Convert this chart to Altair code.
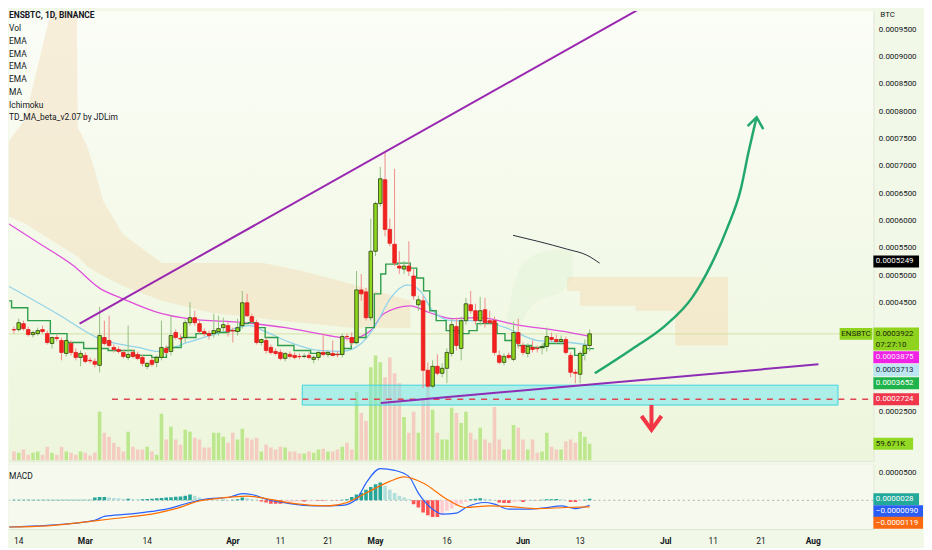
import altair as alt
import pandas as pd

# ============================ data ============================
START = "2022-02-14"          # first daily candle (ENSBTC, 1D, BINANCE)

# candle prices in satoshi (1 sat = 1e-8 BTC)
OPEN_SAT = [
    40000, 40000, 41090, 40000, 39090, 39270, 40000, 39270, 37460, 38550,
    38000, 35640, 37460, 35820, 34910, 35270, 34370, 34180, 33460, 38550,
    38000, 36730, 36360, 35820, 34910, 35820, 35460, 34910, 33270, 34370,
    34000, 34910, 36550, 36000, 39460, 38360, 38550, 41270, 42180, 41090,
    39640, 39270, 39270, 39640, 40360, 40730, 39820, 39640, 40730, 44910,
    42360, 41270, 37640, 38000, 36730, 36000, 35820, 34730, 35460, 35270,
    35090, 35090, 35270, 34550, 34910, 35820, 35460, 35640, 35460, 35460,
    38730, 38550, 37640, 47270, 46910, 42180, 54360, 63090, 67450, 58360,
    55640, 51640, 51090, 51640, 49820, 44550, 45270, 32550, 29640, 33270,
    32000, 32910, 35640, 40550, 36550, 41640, 44550, 43460, 41640, 43640,
    41640, 41640, 35270, 34000, 35270, 34550, 39460, 37090, 35640, 36730,
    36550, 36730, 36910, 38550, 38180, 37820, 38180, 35270, 32180, 31820,
    35640, 37090,
]
HIGH_SAT = [
    40550, 42000, 41640, 40550, 39820, 40360, 40730, 39820, 38730, 39090,
    38550, 38180, 38000, 36550, 36180, 35820, 34910, 34730, 44180, 41640,
    42550, 37270, 36910, 36360, 40730, 36360, 36000, 35460, 34000, 34910,
    35270, 41640, 37090, 42550, 40000, 39090, 41820, 45000, 43460, 41640,
    40180, 39820, 42910, 42550, 42180, 41460, 40360, 42000, 47090, 46550,
    42910, 41820, 38360, 38550, 37270, 36550, 36360, 35820, 36000, 35820,
    35640, 35640, 35820, 35270, 36000, 39270, 36180, 38000, 36000, 39270,
    39270, 39460, 50730, 50180, 47640, 60360, 63450, 69820, 72540, 60360,
    69450, 54360, 52550, 56180, 51090, 46180, 46180, 34000, 34370, 35460,
    33820, 36550, 42000, 42180, 42360, 45820, 47090, 44730, 46000, 45820,
    43460, 42360, 36180, 35640, 35820, 41460, 42000, 37640, 37460, 38000,
    37090, 37460, 40360, 39460, 39090, 38910, 38730, 35820, 32730, 36000,
    38180, 40000,
]
LOW_SAT = [
    39270, 39640, 39820, 38730, 38550, 38910, 39270, 37270, 36550, 37820,
    34370, 35090, 35270, 34370, 33270, 33820, 33820, 33090, 32180, 37090,
    36730, 35820, 35640, 34730, 34370, 34730, 34370, 33270, 32730, 33270,
    33090, 34370, 35460, 35270, 38180, 37640, 37640, 40730, 40730, 39270,
    38730, 38180, 38550, 38910, 39640, 38730, 37640, 38910, 40180, 42360,
    41090, 37270, 37090, 35640, 35460, 35270, 34370, 34180, 34730, 34550,
    34550, 34730, 34550, 33820, 34370, 35090, 34910, 35090, 34910, 34910,
    38000, 37090, 37270, 45270, 41640, 41640, 53450, 62540, 57090, 55270,
    51640, 50180, 50180, 49820, 45450, 43460, 29270, 29270, 29270, 31640,
    31270, 30180, 35090, 36180, 34370, 40910, 42910, 40910, 40730, 40360,
    40910, 35270, 33640, 33460, 34550, 34180, 36550, 35270, 34910, 35820,
    35820, 35460, 36000, 37820, 37460, 37270, 35460, 31270, 30180, 30180,
    34370, 36000,
]
CLOSE_SAT = [
    39950, 41270, 40180, 39090, 39460, 39820, 39640, 37640, 38550, 38360,
    35820, 38000, 35820, 34910, 35640, 34180, 34300, 33640, 38910, 37460,
    37090, 36360, 36000, 35090, 35460, 35090, 34730, 33820, 33820, 33640,
    34910, 36730, 35820, 38910, 38550, 38300, 41270, 42180, 41270, 39640,
    39270, 38910, 39820, 40180, 40910, 39640, 39760, 40360, 44910, 42550,
    41460, 37640, 38180, 36180, 35820, 35640, 34730, 35640, 35090, 34910,
    35050, 35130, 34910, 34910, 35820, 35460, 35820, 35270, 35400, 38730,
    38700, 37640, 47270, 46550, 42180, 54360, 63090, 67630, 58360, 55820,
    52180, 51270, 51640, 50730, 46180, 45450, 32550, 29640, 33270, 32000,
    32910, 35820, 40910, 37090, 41640, 44730, 43460, 41640, 43460, 41270,
    41270, 35820, 34000, 35090, 34910, 39460, 37460, 35820, 36910, 36360,
    36500, 36910, 38730, 38180, 37820, 38180, 35820, 32180, 32000, 35640,
    37090, 39220,
]
VOLUME_K = [
    32, 28, 39, 21, 28, 32, 21, 49, 28, 21,
    49, 32, 28, 21, 32, 28, 18, 28, 172, 98,
    84, 63, 49, 32, 102, 49, 39, 39, 49, 32,
    21, 165, 74, 119, 74, 56, 109, 102, 81, 74,
    46, 46, 98, 98, 84, 63, 98, 74, 112, 81,
    74, 81, 32, 56, 46, 39, 49, 46, 32, 32,
    25, 25, 32, 28, 39, 42, 32, 32, 39, 49,
    63, 39, 242, 168, 140, 329, 371, 347, 294, 364,
    308, 273, 154, 98, 172, 98, 214, 284, 179, 98,
    74, 74, 186, 168, 133, 172, 98, 74, 116, 74,
    63, 189, 74, 39, 39, 126, 116, 74, 39, 74,
    28, 32, 98, 49, 39, 39, 67, 74, 63, 102,
    84, 59.671,
]
# MACD histogram, one value per candle, in units of 1e-5 BTC
MACD_HIST_E5 = [
    0.1, 0.1, 0.1, 0.1, 0.1, 0.1, 0.1, 0.1, 0.1, 0.1, 0.1,
    0.1, 0.1, 0.1, 0.1, 0.1, 0.1,
    0.5, 0.6, 0.6, 0.5,
    0.4, 0.35, 0.3, 0.3, 0.25, 0.2, 0.2, 0.25, 0.3,
    0.35, 0.4, 0.5, 0.55, 0.65, 0.7, 0.8,
    1.05, 0.8, 0.5, 0.3,
    0.2, 0.15, 0.1, 0.1, 0.05, 0.1, 0.2,
    0.5, 0.4, 0.25, 0.1,
    -0.2, -0.4, -0.6, -0.6, -0.6, -0.5,
    -0.3, -0.25, -0.2, -0.2, -0.15, -0.1, -0.1, -0.1, -0.05, -0.05, -0.05,
    0.1, 0.2,
    0.6, 1.05, 1.35, 1.9, 2.4, 2.9, 3.2, 2.6, 1.9, 1.3, 0.8, 0.5, 0.2,
    -0.7, -1.3, -2.2, -2.7, -3.0, -3.0, -2.5, -1.9, -1.5, -1.0, -0.6, -0.3,
    0.2, 0.3, 0.35, 0.3, 0.2, 0.05,
    -0.4, -0.5, -0.5, -0.3, -0.2, -0.3,
    -0.1, 0.05, -0.05, 0.1,
    0.2, 0.2, 0.25, 0.2, 0.05,
    -0.3, -0.3, -0.1, 0.1, 0.28,
]
# MACD line and signal line (day offset from START, value in 1e-5 BTC)
MACD_DAY = [-1, 7, 17, 19, 24, 29, 32, 37, 41, 45, 48, 50, 53, 58, 63, 69, 72, 74, 77, 80,
            83, 85, 88, 90, 93, 95, 99, 101, 104, 108, 112, 115, 118, 121]
MACD_E5 = [-4.8, -4.5, -3.6, -2.9, -2.5, -2.0, -1.6, -0.4, 0.3, 0.5, 1.2, 1.05, 0.2, -0.6, -1.0,
           -0.9, 0.2, 3.1, 5.7, 5.4, 4.3, 1.3, -1.6, -2.5, -2.3, -1.3, -0.4, -0.7, -1.6, -1.6,
           -1.3, -1.0, -1.5, -0.9]
SIGNAL_DAY = [-1, 7, 17, 24, 30, 34, 39, 43, 49, 53, 59, 66, 70, 74, 79, 82, 86, 91, 95, 100,
              104, 110, 116, 121]
SIGNAL_E5 = [-4.8, -4.6, -3.7, -3.0, -2.3, -1.5, -0.1, 0.35, 0.76, 0.3, -0.6, -1.0, -0.4, 1.3,
             3.4, 4.2, 3.1, 0.2, -1.3, -1.0, -1.1, -1.5, -1.3, -1.19]

# moving averages (day offset, satoshi)
EMA_SLOW_DAY = [-1.2, 5.6, 12.6, 17.9, 22.9, 31.1, 36.5, 48.2, 57.1, 67.4, 70.9, 75.0, 77.7,
                83.3, 87.4, 92.2, 97.7, 106.6, 111.5, 116.9, 121.0]
EMA_SLOW_SAT = [59450, 55640, 51640, 47640, 45640, 42910, 42000, 41270, 40360, 38730, 38360,
                39820, 42910, 44360, 43090, 42000, 42180, 40730, 40180, 39460, 38750]
EMA_FAST_DAY = [-1.2, 9.1, 17.9, 26.2, 30.3, 36.5, 43.5, 49.7, 52.4, 58.6, 64.1, 68.9, 73.0,
                75.7, 79.2, 82.7, 85.4, 88.0, 92.2, 97.7, 103.3, 110.1, 116.9, 121.0]
EMA_FAST_SAT = [48000, 42910, 38360, 36730, 36000, 37640, 39460, 40730, 39820, 37460, 36180,
                36000, 37460, 40360, 45820, 48180, 47090, 43460, 41640, 41640, 40360, 38000,
                37640, 37130]
TDMA_DAY = [-1.2, 0.2, 5.6, 9.7, 12.6, 16.7, 22.9, 27.6, 30.3, 33.8, 36.5, 40.0, 43.5, 46.8,
            48.2, 50.3, 51.8, 53.8, 57.1, 60.6, 64.1, 68.2, 70.3, 71.5, 73.0, 75.0, 76.5, 77.7,
            78.6, 82.7, 83.9, 85.4, 86.8, 88.0, 89.5, 92.2, 95.0, 96.3, 98.4, 101.2, 101.9,
            104.5, 107.4, 110.1, 112.8, 115.7, 116.7, 119.0, 120.4, 121.9]
TDMA_SAT = [45270, 44000, 41640, 39270, 37640, 36550, 36180, 35270, 34910, 36730, 38550, 39270,
            39460, 39820, 41090, 41270, 40360, 38550, 37090, 36180, 35640, 35460, 36550, 37640,
            38550, 40360, 46550, 50180, 52000, 52180, 51270, 49450, 47090, 43460, 41640, 39820,
            39270, 39820, 41090, 41090, 39270, 38000, 37090, 36730, 37460, 37460, 36550, 35270,
            36520, 36520]

# Ichimoku cloud pieces (day offset, top / bottom in satoshi)
CLOUD_DAY = [-1.2, 2.3, 8.2, 13.2, 13.4, 15.3, 16.9, 18.8, 22.9, 31.1, 41.4, 52.4, 60.6, 70.9, 83.3]
CLOUD_TOP_SAT = [74360, 78540, 99810, 99810, 77090, 73820, 69450, 63450, 57450, 52180, 52180,
                 52180, 50730, 48360, 45270]
CLOUD_BOT_SAT = [60730, 59450, 56180, 53450, 53450, 51640, 50730, 49820, 48000, 45270, 43090,
                 42000, 41270, 40360, 40360]
LEAD_CLOUD_DAY = [103.5, 106.0, 108.1, 110.1, 115.3, 117.5]
LEAD_CLOUD_TOP_SAT = [41640, 50730, 52910, 54000, 54730, 54360]
LEAD_CLOUD_BOT_SAT = [39820, 40730, 43460, 45270, 47090, 49640]
FUTURE_CLOUD_DAY = [116.3, 119.0, 124.5, 130.7, 139.0, 150.1]
FUTURE_CLOUD_TOP_SAT = [49640, 49640, 49640, 49640, 49640, 49640]
FUTURE_CLOUD_BOT_SAT = [47090, 44360, 44360, 43460, 37090, 37090]

# drawings (day offset, price in BTC)
RESIST_DAY, RESIST_PRICE = [13.8, 134.4], [0.0004109, 0.0010018]
RISING_DAY, RISING_PRICE = [77.1, 169.1], [0.0002655, 0.0003364]
ZONE_DAY, ZONE_PRICE = [60.6, 173.2], [0.0002618, 0.0002982]
LEVEL_DAY, LEVEL_PRICE = [20.6, 179.6], [0.0002724, 0.0002724]
CURVE_DAY = [104.9, 110.1, 116.3, 120.4, 123.1]
CURVE_PRICE = [0.0005727, 0.0005618, 0.0005473, 0.0005364, 0.0005218]
UP_ARROW_DAY = [122.1, 130.1, 136.9, 142.5, 146.6, 149.9, 152.8, 154.4, 155.5, 156.1]
UP_ARROW_PRICE = [0.000320, 0.0003655, 0.0004073, 0.0004582, 0.00052, 0.0005855, 0.0006582,
                  0.0007254, 0.0007673, 0.0007891]
UP_HEAD_DAY, UP_HEAD_PRICE = [154.2, 156.1, 157.5], [0.0007727, 0.0007891, 0.0007673]
DOWN_SHAFT_DAY, DOWN_SHAFT_PRICE = [134.0, 134.0], [0.0002618, 0.0002200]
DOWN_HEAD_DAY, DOWN_HEAD_PRICE = [131.9, 134.0, 136.1], [0.0002418, 0.0002164, 0.0002418]

# time-axis labels (date, text) and price-axis ticks
TICK_DATES = ["2022-02-14", "2022-03-01", "2022-03-14", "2022-04-01", "2022-04-11",
              "2022-04-21", "2022-05-01", "2022-05-16", "2022-06-01", "2022-06-13",
              "2022-07-01", "2022-07-11", "2022-07-21", "2022-08-01"]
TICK_LABELS = ["14", "Mar", "14", "Apr", "11", "21", "May", "16", "Jun", "13",
               "Jul", "11", "21", "Aug"]
PRICE_TICKS = [0.00025, 0.00045, 0.0005, 0.00055, 0.0006, 0.00065, 0.0007, 0.00075, 0.0008,
               0.00085, 0.0009, 0.00095]
LEGEND_TITLE = "ENSBTC, 1D, BINANCE"
LEGEND_LINES = ["Vol", "EMA", "EMA", "EMA", "EMA", "MA", "Ichimoku", "TD_MA_beta_v2.07 by JDLim"]
LAST_PRICE, COUNTDOWN = 0.0003922, "07:27:10"
EMA_SLOW_LAST, EMA_FAST_LAST, TDMA_LAST = 0.0003875, 0.0003713, 0.0003652
CURVE_LAST = 0.0005249
LAST_VOLUME_K = 59.671
MACD_HIST_LAST, MACD_LAST, SIGNAL_LAST = 0.0000028, -0.0000090, -0.0000119

# ============================ layout / helpers ============================
W, H_MAIN, H_MACD = 871, 453, 65
DAYS_VISIBLE = 179.6
FONT = "Roboto"
INK = "#131722"
T0 = pd.Timestamp(START, tz="UTC")


def iso(d):
    return (T0 + pd.Timedelta(days=float(d))).strftime("%Y-%m-%dT%H:%M:%SZ")


def ms(ts):
    return int(ts.value // 1_000_000)


XS = alt.Scale(type="utc", domain=[ms(T0), ms(T0 + pd.Timedelta(days=DAYS_VISIBLE))], nice=False)
YS = alt.Scale(domain=[0.00016003, 0.00098359], nice=False, zero=False)
VS = alt.Scale(domain=[0, 1585.5], nice=False, zero=False)
MS = alt.Scale(domain=[-0.0000518, 0.0000643], nice=False, zero=False)


def X(field="t"):
    return alt.X(f"{field}:T", scale=XS, axis=None)


def Y(field, scale=YS):
    return alt.Y(f"{field}:Q", scale=scale, axis=None)


def line_df(days, vals, div=1.0):
    return pd.DataFrame({"t": [iso(d) for d in days], "v": [v / div for v in vals],
                         "i": list(range(len(days)))})


def band_df(days, tops, bots):
    return pd.DataFrame({"t": [iso(d) for d in days], "top": [v / 1e8 for v in tops],
                         "bot": [v / 1e8 for v in bots]})


def line(df, color, width, interp="linear", dash=None, order=False):
    kw = dict(color=color, strokeWidth=width, interpolate=interp, clip=True)
    if dash:
        kw["strokeDash"] = dash
    enc = dict(x=X(), y=Y("v"))
    if order:
        enc["order"] = alt.Order("i:Q")
    return alt.Chart(df).mark_line(**kw).encode(**enc)


def tag(value, text, bg, fg, scale, xc, half_w, dy=0.0, half_h=6.0, align="left", text_dy=None):
    df = pd.DataFrame({"v": [value]})
    r = half_h / half_w
    shape = f"M-1,{-r:.4f}L1,{-r:.4f}L1,{r:.4f}L-1,{r:.4f}Z"
    box = alt.Chart(df).mark_point(shape=shape, size=(2 * half_w) ** 2, filled=True, opacity=1,
                                   color=bg, strokeWidth=0, yOffset=dy).encode(
        x=alt.value(xc), y=Y("v", scale))
    layers = [box]
    texts = text if isinstance(text, list) else [text]
    offs = text_dy if text_dy is not None else [dy]
    for tx, o in zip(texts, offs):
        tx_x = xc - half_w + 2.5 if align == "left" else xc
        layers.append(alt.Chart(df).mark_text(text=tx, align=align, baseline="middle", font=FONT,
                                              fontSize=8, color=fg, dy=o).encode(
            x=alt.value(tx_x), y=Y("v", scale)))
    return layers


# ============================ candles ============================
n = len(OPEN_SAT)
up = [c >= o for o, c in zip(OPEN_SAT, CLOSE_SAT)]
cdf = pd.DataFrame({
    "t": [iso(i) for i in range(n)],
    "o": [v / 1e8 for v in OPEN_SAT], "h": [v / 1e8 for v in HIGH_SAT],
    "l": [v / 1e8 for v in LOW_SAT], "c": [v / 1e8 for v in CLOSE_SAT],
    "vol": VOLUME_K,
    "body": ["#8fd81e" if u else "#f4211f" for u in up],
    "edge": ["#2a3d10" if u else "#e21c1c" for u in up],
    "wick": ["#93bf7f" if u else "#f08c8c" for u in up],
    "vcol": ["#b4e47f" if u else "#f5c4bb" for u in up],
})

main_axis = alt.Axis(orient="right", values=PRICE_TICKS, format=".7f", ticks=False, domain=False,
                     grid=False, labelPadding=5, labelFontSize=8, labelFont=FONT, labelColor=INK,
                     title=None)

bg_main = alt.Chart(pd.DataFrame({"a": [0]})).mark_rect(
    color=alt.Gradient(gradient="linear", x1=0, x2=0, y1=0, y2=1,
                       stops=[alt.GradientStop(offset=0, color="#fbfdf7"),
                              alt.GradientStop(offset=1, color="#edf6dc")])
).encode(x=alt.value(0), x2=alt.value(W), y=alt.value(0), y2=alt.value(H_MAIN))

cloud = alt.Chart(band_df(CLOUD_DAY, CLOUD_TOP_SAT, CLOUD_BOT_SAT)).mark_area(
    color="#f3d6ae", opacity=0.38, clip=True).encode(x=X(), y=Y("top"), y2="bot:Q")
lead_cloud = alt.Chart(band_df(LEAD_CLOUD_DAY, LEAD_CLOUD_TOP_SAT, LEAD_CLOUD_BOT_SAT)).mark_area(
    color="#dcefcf", opacity=0.3, interpolate="monotone", clip=True).encode(
    x=X(), y=Y("top"), y2="bot:Q")
future_cloud = alt.Chart(band_df(FUTURE_CLOUD_DAY, FUTURE_CLOUD_TOP_SAT, FUTURE_CLOUD_BOT_SAT)).mark_area(
    color="#f6dcb6", opacity=0.5, interpolate="step-after", clip=True).encode(
    x=X(), y=Y("top"), y2="bot:Q")

volume = alt.Chart(cdf).mark_bar(size=3.6, clip=True, opacity=0.85).encode(
    x=X(), y=Y("vol", VS), fill=alt.Fill("vcol:N", scale=None))

zone_df = pd.DataFrame({"t1": [iso(ZONE_DAY[0])], "t2": [iso(ZONE_DAY[1])],
                        "p1": [ZONE_PRICE[0]], "p2": [ZONE_PRICE[1]]})
zone = alt.Chart(zone_df).mark_rect(fill="#6ae6ef", fillOpacity=0.5, stroke="#3fd3e0",
                                    strokeWidth=1, clip=True).encode(
    x=X("t1"), x2="t2:T", y=Y("p1"), y2="p2:Q")

level = line(line_df(LEVEL_DAY, LEVEL_PRICE), "#dd4652", 1.6, dash=[6, 6])
price_line = alt.Chart(pd.DataFrame({"v": [LAST_PRICE]})).mark_rule(
    color="#cbd98c", opacity=0.7, strokeWidth=1).encode(y=Y("v"))

ema_slow = line(line_df(EMA_SLOW_DAY, EMA_SLOW_SAT, 1e8), "#e04fdc", 1.3, "monotone")
ema_fast = line(line_df(EMA_FAST_DAY, EMA_FAST_SAT, 1e8), "#93d3ea", 1.3, "monotone")
tdma = line(line_df(TDMA_DAY, TDMA_SAT, 1e8), "#2f9e4c", 1.4, "step")

wick = alt.Chart(cdf).mark_rule(strokeWidth=1, clip=True).encode(
    x=X(), y=alt.Y("l:Q", scale=YS, axis=main_axis), y2="h:Q",
    color=alt.Color("wick:N", scale=None))
body = alt.Chart(cdf).mark_bar(size=3.6, strokeWidth=0.8, clip=True).encode(
    x=X(), y=Y("o"), y2="c:Q", fill=alt.Fill("body:N", scale=None),
    stroke=alt.Stroke("edge:N", scale=None))

resist = line(line_df(RESIST_DAY, RESIST_PRICE), "#9a27b0", 2)
rising = line(line_df(RISING_DAY, RISING_PRICE), "#8e2db5", 2)
curve = line(line_df(CURVE_DAY, CURVE_PRICE), "#2a2e39", 1, "monotone")
up_arrow = line(line_df(UP_ARROW_DAY, UP_ARROW_PRICE), "#22a76d", 2.5, "monotone")
up_head = line(line_df(UP_HEAD_DAY, UP_HEAD_PRICE), "#22a76d", 2.5)
down_shaft = line(line_df(DOWN_SHAFT_DAY, DOWN_SHAFT_PRICE), "#f23645", 4, order=True)
down_head = line(line_df(DOWN_HEAD_DAY, DOWN_HEAD_PRICE), "#f23645", 4)

one = pd.DataFrame({"a": [0]})
legend = [alt.Chart(one).mark_text(text=LEGEND_TITLE, align="left", baseline="middle", font=FONT,
                                   fontSize=8.5, fontWeight="bold", color=INK).encode(
    x=alt.value(0), y=alt.value(4.5))]
for k, txt in enumerate(LEGEND_LINES):
    legend.append(alt.Chart(one).mark_text(text=txt, align="left", baseline="middle", font=FONT,
                                           fontSize=8.5, color=INK).encode(
        x=alt.value(0), y=alt.value(17.2 + 12.85 * k)))
btc = alt.Chart(one).mark_text(text="BTC", align="left", baseline="middle", font=FONT, fontSize=8,
                               color=INK).encode(x=alt.value(W + 7), y=alt.value(4))

RX = W + 23  # centre of the price-scale tags
main_tags = []
main_tags += tag(CURVE_LAST, "0.0005249", "#000000", "#ffffff", YS, RX, 23)
main_tags += tag(LAST_PRICE, "ENSBTC", "#8fd31e", "#1a2608", YS, W - 17.5, 16.5, align="center")
main_tags += tag(LAST_PRICE, ["0.0003922", COUNTDOWN], "#8fd31e", "#1a2608", YS, RX, 23,
                 dy=5.2, half_h=11.5, text_dy=[0, 11])
main_tags += tag(EMA_SLOW_LAST, "0.0003875", "#ef22e6", "#fde8fc", YS, RX, 23, dy=21)
main_tags += tag(EMA_FAST_LAST, "0.0003713", "#bde6f3", "#1d2b33", YS, RX, 23, dy=25.2)
main_tags += tag(TDMA_LAST, "0.0003652", "#1fb34b", "#ffffff", YS, RX, 23, dy=34.9)
main_tags += tag(LEVEL_PRICE[0], "0.0002724", "#f0364a", "#ffffff", YS, RX, 23)
main_tags += tag(LAST_VOLUME_K, "59.671K", "#92d923", "#1a2608", VS, W + 20, 20)

main = alt.layer(
    bg_main, cloud, lead_cloud, future_cloud, volume, zone, level, price_line,
    ema_slow, ema_fast, tdma, wick, body, resist, rising, curve,
    up_arrow, up_head, down_shaft, down_head, *legend, btc, *main_tags
).resolve_scale(y="independent").properties(width=W, height=H_MAIN)

# ============================ MACD panel ============================
hist_col, prev = [], 0.0
for v in MACD_HIST_E5:
    if v >= 0:
        hist_col.append("#26a69a" if v >= prev else "#b2dfdb")
    else:
        hist_col.append("#ff5252" if v <= prev else "#ffcdd2")
    prev = v
hdf = pd.DataFrame({"t": [iso(i) for i in range(len(MACD_HIST_E5))],
                    "v": [v * 1e-5 for v in MACD_HIST_E5], "z": 0.0, "col": hist_col})

macd_axis = alt.Axis(orient="right", values=[0.00005], format=".7f", ticks=False, domain=False,
                     grid=False, labelPadding=5, labelFontSize=8, labelFont=FONT, labelColor=INK,
                     title=None)

bg_macd = alt.Chart(one).mark_rect(color="#f6faee").encode(
    x=alt.value(0), x2=alt.value(W), y=alt.value(0), y2=alt.value(H_MACD))
zero = alt.Chart(pd.DataFrame({"v": [0.0]})).mark_rule(
    color="#8a8f98", strokeDash=[2, 3], opacity=0.7).encode(y=Y("v", MS))
hist = alt.Chart(hdf).mark_bar(size=3.6, clip=True).encode(
    x=X(), y=alt.Y("v:Q", scale=MS, axis=macd_axis), y2="z:Q",
    fill=alt.Fill("col:N", scale=None))
macd_line = alt.Chart(line_df(MACD_DAY, MACD_E5, 1e5)).mark_line(
    color="#2962ff", strokeWidth=1.2, interpolate="monotone", clip=True).encode(x=X(), y=Y("v", MS))
signal_line = alt.Chart(line_df(SIGNAL_DAY, SIGNAL_E5, 1e5)).mark_line(
    color="#ff6d00", strokeWidth=1.2, interpolate="monotone", clip=True).encode(x=X(), y=Y("v", MS))
macd_title = alt.Chart(one).mark_text(text="MACD", align="left", baseline="middle", font=FONT,
                                      fontSize=8.5, color=INK).encode(x=alt.value(0), y=alt.value(12))

# time axis drawn as text through the shared time scale
tick_df = pd.DataFrame({"t": [d + "T00:00:00Z" for d in TICK_DATES], "label": TICK_LABELS,
                        "month": [d.endswith("-01") for d in TICK_DATES]})
first_tick = alt.Chart(tick_df.iloc[:1]).mark_text(
    align="left", baseline="middle", font=FONT, fontSize=8.5, color=INK).encode(
    x=X(), y=alt.value(H_MACD + 12), text="label:N")
day_ticks = alt.Chart(tick_df.iloc[1:][~tick_df.iloc[1:]["month"]]).mark_text(
    align="center", baseline="middle", font=FONT, fontSize=8.5, color=INK).encode(
    x=X(), y=alt.value(H_MACD + 12), text="label:N")
month_ticks = alt.Chart(tick_df[tick_df["month"]]).mark_text(
    align="center", baseline="middle", font=FONT, fontSize=8.5, fontWeight="bold", color=INK).encode(
    x=X(), y=alt.value(H_MACD + 12), text="label:N")

macd_tags = []
macd_tags += tag(MACD_HIST_LAST, "0.0000028", "#22a99a", "#ffffff", MS, RX, 23, dy=0.5)
macd_tags += tag(MACD_LAST, "\u22120.0000090", "#2b5cf6", "#ffffff", MS, W + 25, 25, dy=6)
macd_tags += tag(SIGNAL_LAST, "\u22120.0000119", "#fb6a10", "#ffffff", MS, W + 25, 25, dy=16)

macd = alt.layer(
    bg_macd, zero, hist, macd_line, signal_line, macd_title, first_tick, day_ticks, month_ticks,
    *macd_tags
).resolve_scale(y="independent").properties(width=W, height=H_MACD)

chart = (
    alt.vconcat(main, macd, spacing=2)
    .resolve_scale(x="independent")
    .properties(padding=0, background="#f2f8e7")
    .configure_view(stroke="#dde3d2", strokeWidth=1)
)

chart.save("out.html", embed_options={"renderer": "svg", "actions": False})
